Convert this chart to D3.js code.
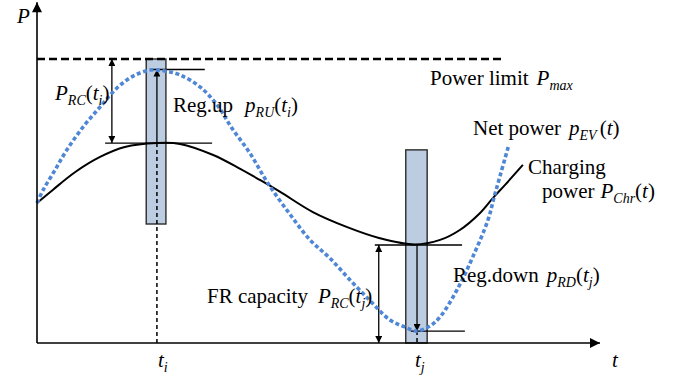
<!DOCTYPE html>
<html>
<head>
<meta charset="utf-8">
<script src="https://cdn.jsdelivr.net/npm/d3@7"></script>
<style>
  body { margin: 0; background: #fff; }
  svg text { font-family: Liberation Serif, Tinos, Times New Roman, Times, DejaVu Serif, serif; }
</style>
</head>
<body>
<svg id="chart" width="679" height="377"></svg>
<script>
// Charging power P_Chr(t): time and power samples
const chargeT = [0, 2.8, 6.8, 11.2, 15.6, 21.3, 25.4, 31.3, 36.1, 39.6, 43.2, 49.0, 55.1, 60.9, 67.1, 71.6, 75.1, 78.7, 81.0, 83.1, 86.3];
const chargeP = [49.3, 53.9, 60.2, 65.5, 69.0, 70.4, 70.1, 66.2, 61.3, 57.4, 53.2, 46.1, 40.8, 36.9, 34.7, 36.3, 39.8, 45.8, 51.1, 55.6, 62.7];

// Net power p_EV(t): time and power samples
const netT = [0, 1.1, 3.2, 5.3, 8.2, 11.2, 14.2, 17.1, 20.1, 22.7, 25.4, 29.0, 32.0, 34.6, 37.8, 41.0, 44.9, 48.5, 52.0, 55.6, 59.2, 62.7, 65.4, 67.5, 69.8, 71.6, 74.6, 77.4, 80.1, 81.2, 82.4, 83.7];
const netP = [49.3, 53.9, 60.9, 68.0, 76.1, 83.1, 89.8, 94.0, 96.1, 95.8, 94.4, 90.1, 83.8, 75.7, 66.9, 56.3, 45.4, 36.3, 29.9, 22.2, 14.8, 8.1, 5.6, 4.2, 6.0, 9.2, 18.7, 30.3, 43.3, 51.4, 59.9, 69.0];

// Power limit and the two regulation instants
const pMax = 100;
const pMaxEnd = 82.6;
const tI = 21.3, tJ = 67.5;
const chargeAtTi = 70.4, upperAtTi = 96.3;
const chargeAtTj = 34.5, lowerAtTj = 4.2;

// FR capacity bars at t_i and t_j
const barStart = [19.4, 65.5];
const barEnd = [22.9, 69.3];
const barLow = [41.9, 0];
const barHigh = [100, 68];

// Horizontal reference ticks: [t0, t1, P]
const refLines = [
  [12.1, 31.1, chargeAtTi],
  [20.1, 29.8, upperAtTi],
  [60.0, 75.5, chargeAtTj],
  [66.4, 76.0, lowerAtTj]
];

// Axis extents
const tAxisMax = 100, pAxisMax = 120;
const capTi = 13.3, capTj = 60.7;

const svg = d3.select("#chart");
const x = d3.scaleLinear().domain([0, 100]).range([37, 600]);
const y = d3.scaleLinear().domain([0, 100]).range([343, 59]);

const defs = svg.append("defs");
function marker(id, w, h) {
  defs.append("marker")
    .attr("id", id)
    .attr("viewBox", "0 0 10 10")
    .attr("refX", 10).attr("refY", 5)
    .attr("markerUnits", "userSpaceOnUse")
    .attr("markerWidth", w).attr("markerHeight", h)
    .attr("orient", "auto-start-reverse")
    .append("path").attr("d", "M0,0L10,5L0,10Z").attr("fill", "#000");
}
marker("bigArrow", 15, 10);
marker("smallArrow", 10, 7);

// Bars
svg.selectAll("rect.bar").data(barStart).join("rect")
  .attr("class", "bar")
  .attr("x", (d) => x(d))
  .attr("width", (d, i) => x(barEnd[i]) - x(d))
  .attr("y", (d, i) => y(barHigh[i]))
  .attr("height", (d, i) => y(barLow[i]) - y(barHigh[i]))
  .attr("fill", "#bccde1")
  .attr("stroke", "#2b2b2b")
  .attr("stroke-width", 1.4);

// Power limit
svg.append("line")
  .attr("x1", x(0)).attr("x2", x(pMaxEnd))
  .attr("y1", y(pMax)).attr("y2", y(pMax))
  .attr("stroke", "#000").attr("stroke-width", 2.4)
  .attr("stroke-dasharray", "8,4");

// Reference ticks
svg.selectAll("line.ref").data(refLines).join("line")
  .attr("class", "ref")
  .attr("x1", (d) => x(d[0])).attr("x2", (d) => x(d[1]))
  .attr("y1", (d) => y(d[2])).attr("y2", (d) => y(d[2]))
  .attr("stroke", "#000").attr("stroke-width", 1.3);

// Dashed drop lines at t_i and t_j
svg.append("line")
  .attr("x1", x(tI)).attr("x2", x(tI))
  .attr("y1", y(chargeAtTi)).attr("y2", y(0))
  .attr("stroke", "#000").attr("stroke-width", 1.5).attr("stroke-dasharray", "4,3");
svg.append("line")
  .attr("x1", x(tJ)).attr("x2", x(tJ))
  .attr("y1", y(lowerAtTj)).attr("y2", y(0))
  .attr("stroke", "#000").attr("stroke-width", 1.5).attr("stroke-dasharray", "4,3");

// Dimension arrows
function arrow(t, p0, p1, both) {
  const l = svg.append("line")
    .attr("x1", x(t)).attr("x2", x(t))
    .attr("y1", y(p0)).attr("y2", y(p1))
    .attr("stroke", "#000").attr("stroke-width", 1.3)
    .attr("marker-end", "url(#smallArrow)");
  if (both) l.attr("marker-start", "url(#smallArrow)");
}
arrow(capTi, chargeAtTi, pMax, true);
arrow(tI, chargeAtTi, upperAtTi, false);
arrow(capTj, chargeAtTj, 0, true);
arrow(tJ, chargeAtTj, lowerAtTj, false);

// Curves
const line = d3.line().x((d) => x(d[0])).y((d) => y(d[1])).curve(d3.curveCatmullRom.alpha(0.5));
svg.append("path")
  .datum(chargeT.map((t, i) => [t, chargeP[i]]))
  .attr("d", line)
  .attr("fill", "none").attr("stroke", "#000").attr("stroke-width", 2);
svg.append("path")
  .datum(netT.map((t, i) => [t, netP[i]]))
  .attr("d", line)
  .attr("fill", "none").attr("stroke", "#4f87d6").attr("stroke-width", 3.6)
  .attr("stroke-dasharray", "4,2.6");

// Axes
svg.append("line")
  .attr("x1", x(0)).attr("x2", x(0))
  .attr("y1", y(0)).attr("y2", y(pAxisMax))
  .attr("stroke", "#000").attr("stroke-width", 1.6)
  .attr("marker-end", "url(#bigArrow)");
svg.append("line")
  .attr("x1", x(0)).attr("x2", x(tAxisMax))
  .attr("y1", y(0)).attr("y2", y(0))
  .attr("stroke", "#000").attr("stroke-width", 1.6)
  .attr("marker-end", "url(#bigArrow)");

// Text with italic symbols and subscripts
const FS = 21, SUB = 14;
function label(px, py, parts) {
  const t = svg.append("text").attr("x", px).attr("y", py)
    .style("font-family", "Liberation Serif, DejaVu Serif, serif")
    .attr("font-size", FS).attr("fill", "#000");
  let shifted = false;
  parts.forEach((p) => {
    const s = t.append("tspan").text(p[0]);
    if (p[1]) s.attr("font-style", "italic");
    if (p[2]) {
      s.attr("font-size", SUB);
      if (!shifted) { s.attr("dy", 5); shifted = true; }
    } else if (shifted) {
      s.attr("dy", -5); shifted = false;
    }
    if (p[3]) s.attr("dx", p[3]);
  });
  return t;
}

label(17, 23, [["P", true]]);
label(612, 367, [["t", true]]);
label(158, 367, [["t", true], ["i", true, true]]);
label(415, 367, [["t", true], ["j", true, true]]);

label(55, 100, [["P", true], ["RC", true, true], ["(", false], ["t", true], ["i", true, true], [")", false]]);
label(173, 112, [["Reg.up", false], ["p", true, false, 12], ["RU", true, true], ["(", false], ["t", true], ["i", true, true], [")", false]]);
label(430, 85, [["Power limit", false], ["P", true, false, 8], ["max", true, true]]);
label(473, 135, [["Net power", false], ["p", true, false, 8], ["EV", true, true], ["(", false, false, 3], ["t", true], [")", false]]);
label(528, 174, [["Charging", false]]);
label(542, 198, [["power", false], ["P", true, false, 6], ["Chr", true, true], ["(", false], ["t", true], [")", false]]);
label(453, 282, [["Reg.down", false], ["p", true, false, 8], ["RD", true, true], ["(", false], ["t", true], ["j", true, true], [")", false]]);
label(207, 303, [["FR capacity", false], ["P", true, false, 10], ["RC", true, true], ["(", false], ["t", true], ["j", true, true], [")", false]]);
</script>
</body>
</html>
